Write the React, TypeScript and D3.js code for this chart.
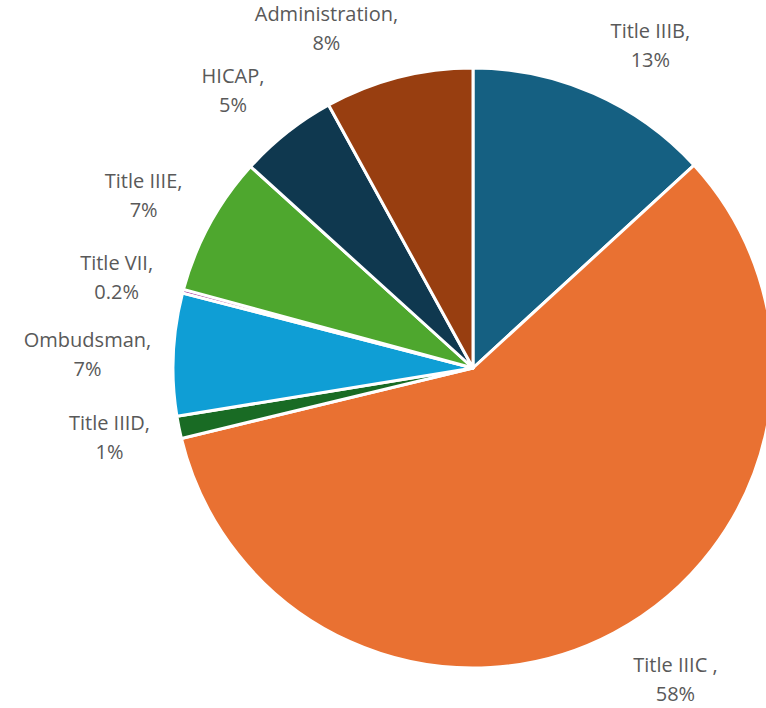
import * as React from "react"
import * as d3 from "d3"

const categories = [
  "Title IIIB",
  "Title IIIC ",
  "Title IIID",
  "Ombudsman",
  "Title VII",
  "Title IIIE",
  "HICAP",
  "Administration",
]
const values = [13.2, 58.1, 1.2, 6.6, 0.2, 7.5, 5.3, 8.0]
const percentLabels = ["13%", "58%", "1%", "7%", "0.2%", "7%", "5%", "8%"]
const colors = [
  "#156082",
  "#E97132",
  "#196B24",
  "#0F9ED5",
  "#A02B93",
  "#4EA72E",
  "#0F384F",
  "#983E10",
]

// best-fit label shift away from the slice middle, in degrees
const labelNudge = [5, -5, 0.6, -0.5, -0.5, -1, -2.5, -8.5]

const width = 766
const height = 708

function render(svgRef: React.RefObject<SVGSVGElement | null>) {
  const cx = 473
  const cy = 368
  const radius = 300

  const svg = d3.select(svgRef.current)
  svg.selectAll("*").remove()
  const g = svg.append("g").attr("transform", `translate(${cx},${cy})`)

  const pie = d3
    .pie<number>()
    .sort(null)
    .value((d) => d)
  const arcs = pie(values)
  const arc = d3.arc<d3.PieArcDatum<number>>().innerRadius(0).outerRadius(radius)

  g.selectAll(".slice")
    .data(arcs)
    .join("path")
    .attr("class", "slice")
    .attr("d", arc)
    .attr("fill", (_d, i) => colors[i])
    .attr("stroke", "#fff")
    .attr("stroke-width", 3)
    .attr("stroke-linejoin", "round")

  const labels = g
    .selectAll(".label")
    .data(arcs)
    .join("text")
    .attr("class", "label")
    .attr("text-anchor", "middle")
    .attr("font-family", "'Open Sans', Roboto, sans-serif")
    .attr("font-size", 20)
    .attr("fill", "#595959")

  labels
    .append("tspan")
    .attr("x", 0)
    .attr("dy", "-0.35em")
    .text((_d, i) => categories[i] + ",")
  labels
    .append("tspan")
    .attr("x", 0)
    .attr("dy", 29)
    .text((_d, i) => percentLabels[i])

  labels.each(function (d, i) {
    const el = this as SVGTextElement
    const box = el.getBBox()
    const a = (d.startAngle + d.endAngle) / 2 + (labelNudge[i] * Math.PI) / 180
    const s = Math.sin(a)
    const c = -Math.cos(a)
    const r =
      334 + 0.8 * ((Math.abs(s) * box.width) / 2 + (Math.abs(c) * box.height) / 2)
    const px = s * r - (box.x + box.width / 2)
    let py = c * r - (box.y + box.height / 2)
    // keep the label inside the chart area, as the spreadsheet does
    const top = cy + py + box.y
    if (top < 0) py -= top
    d3.select(el).attr("transform", `translate(${px},${py})`)
  })
}

export default function App(): React.JSX.Element {
  const svg = React.useRef<SVGSVGElement>(null)

  React.useEffect(() => {
    render(svg)
  }, [])

  return (
    <svg
      ref={svg}
      width={width}
      height={height}
      style={{ position: "absolute", left: 0, top: 0, background: "#fff" }}
    />
  )
}
